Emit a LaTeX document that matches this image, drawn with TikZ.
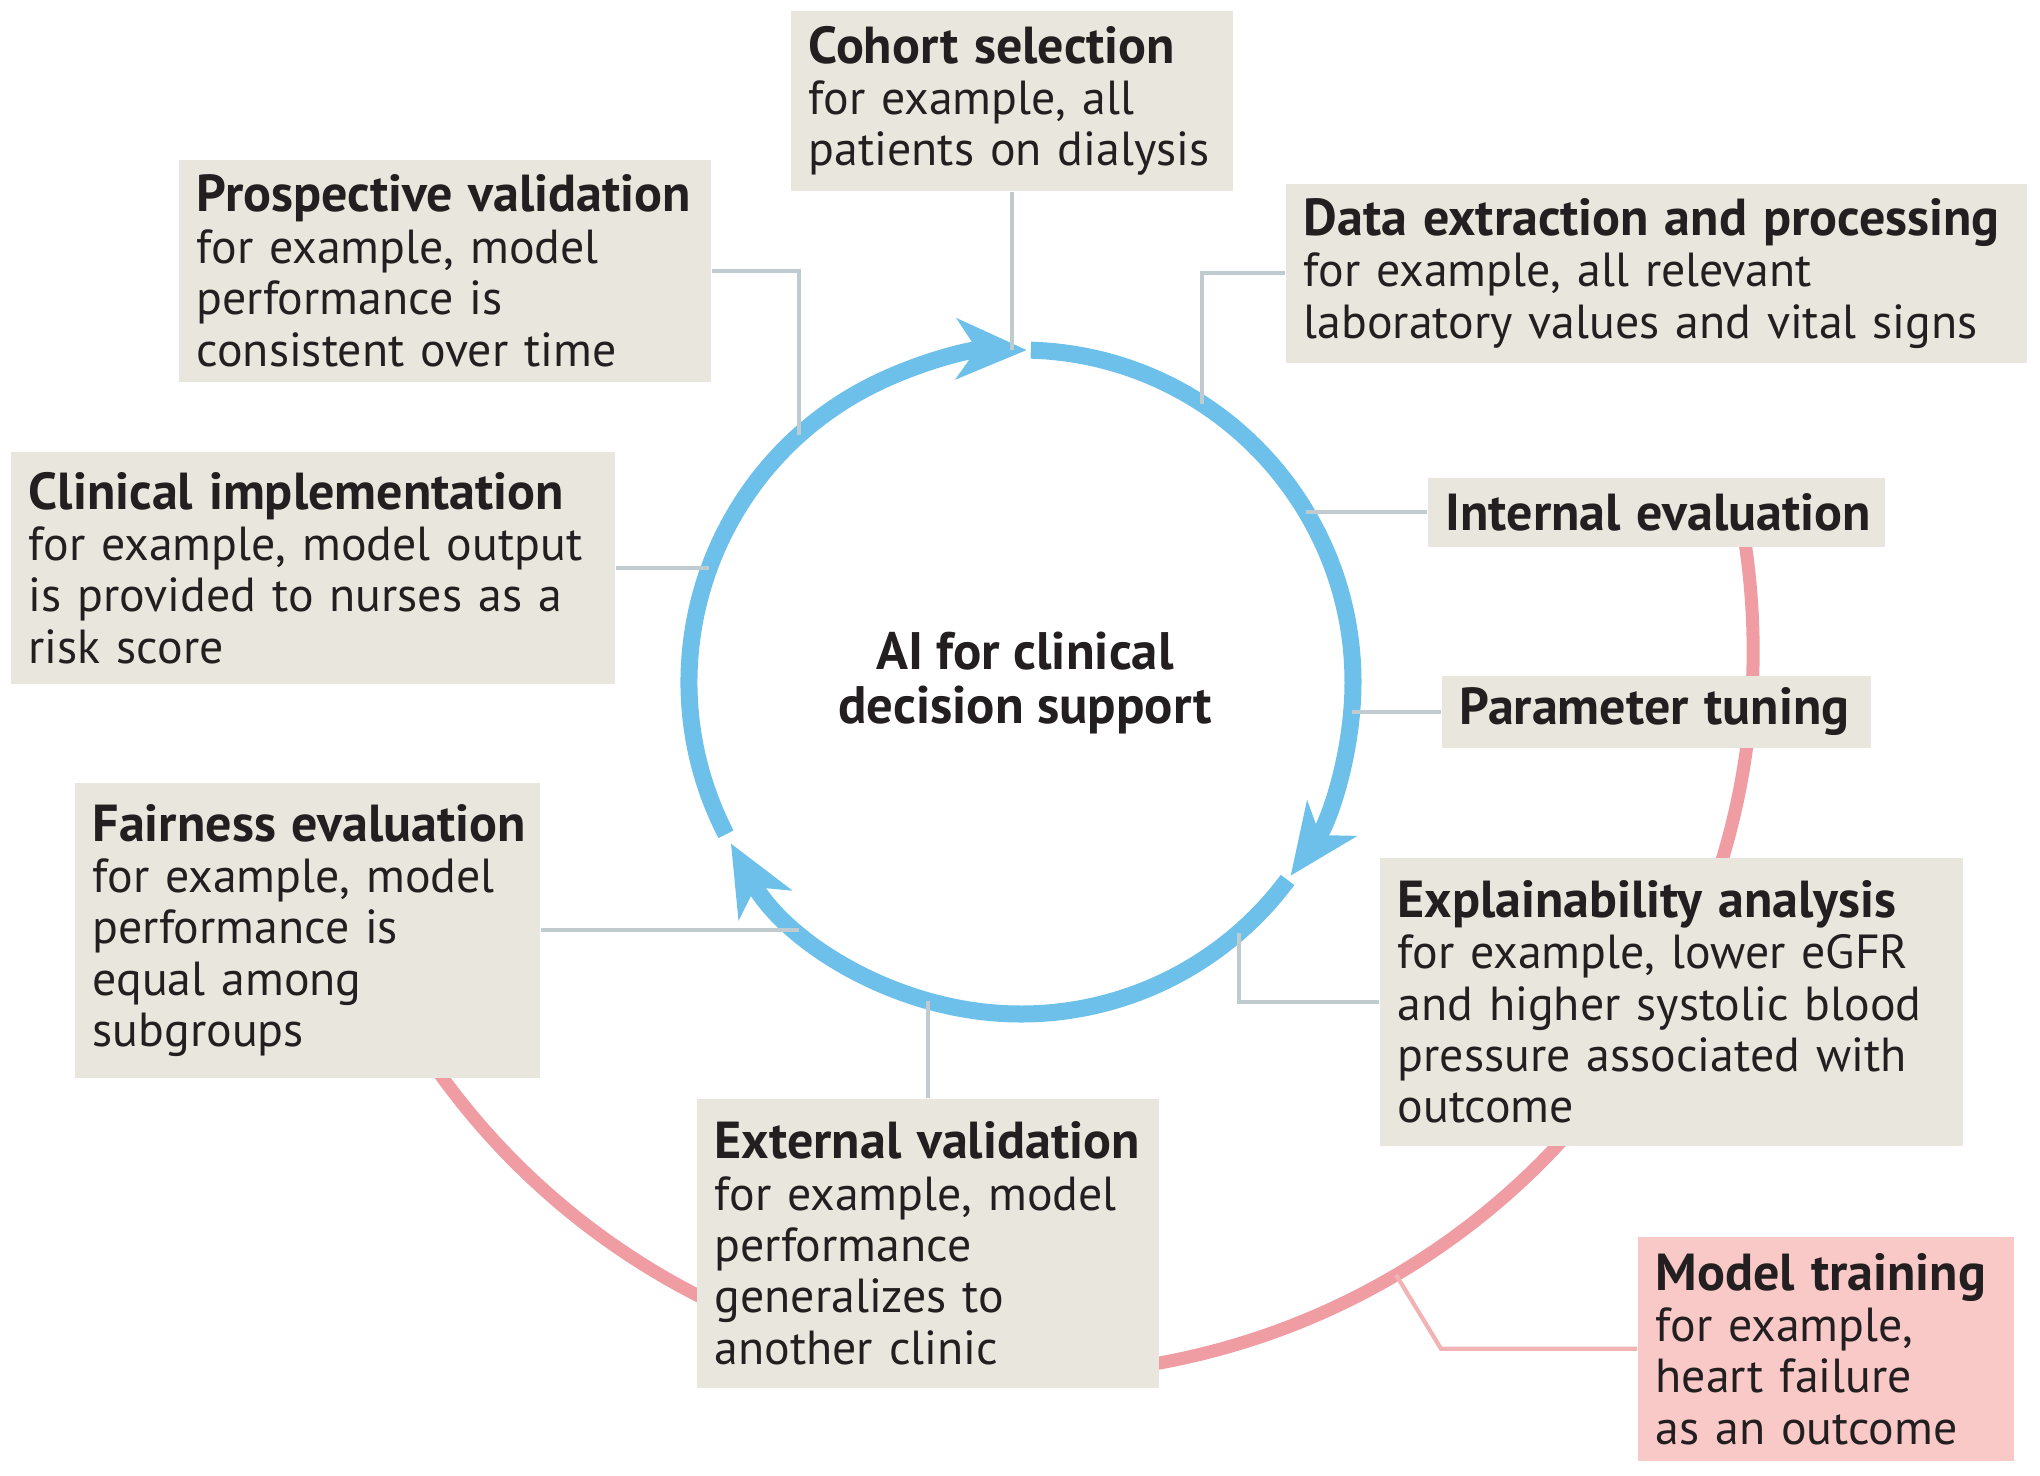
\documentclass[tikz,border=0pt]{standalone}
\usepackage{fontspec}
\setmainfont{PT Sans}
\usetikzlibrary{arrows.meta}
\definecolor{boxfill}{HTML}{E9E7DD}
\definecolor{cycleblue}{HTML}{6DC0EA}
\definecolor{linkgrey}{HTML}{BFCBCF}
\definecolor{trainpink}{HTML}{EF9DA2}
\definecolor{trainlink}{HTML}{F3B3B4}
\definecolor{trainfill}{HTML}{F9C9C7}
\definecolor{inkblack}{HTML}{231F20}
\newcommand{\stagetitle}[1]{\mbox{\bfseries\fontsize{14.8}{14.6}\selectfont #1}}
\tikzset{
  stagebox/.style={fill=boxfill, anchor=north west, align=left, inner xsep=0.18cm,
    inner ysep=0pt, text=inkblack, font=\fontsize{13.6}{14.6}\selectfont},
  link/.style={linkgrey, line width=1.2pt},
  cyclearc/.style={cycleblue, line width=0.17cm,
    -{Stealth[length=0.7cm,width=0.6cm,inset=0.2cm]}},
}
\begin{document}
\begin{tikzpicture}[x=0.01cm,y=0.01cm]
  \useasboundingbox (0,0) rectangle (2040,-1475);
  % Training loop (behind the boxes)
  \coordinate (pc) at (1028,-650);
  \draw[trainpink,line width=0.13cm] (pc) ++(10:725) arc[start angle=10,end angle=-146,radius=725];
  \path (pc) ++(-59.5:725) coordinate (mtarc);
  % Development cycle
  \coordinate (c) at (1021,-682);
  \draw[cyclearc] (c) ++(88.3:332) arc[start angle=88.3,end angle=-35.7,radius=332];
  \draw[cyclearc] (c) ++(-36.6:332) arc[start angle=-36.6,end angle=-150.9,radius=332];
  \draw[cyclearc] (c) ++(207.3:332) arc[start angle=207.3,end angle=89,radius=332];
  \node[font=\bfseries\fontsize{15}{15.2}\selectfont,align=center,text=inkblack] (hub) at (1025,-683)
       {AI for clinical\\decision support};
  % Points on the cycle
  \path (c) ++(90:332) coordinate (cTop)
        (c) ++(132:332) coordinate (cProsp)
        (c) ++(57:332) coordinate (cData)
        (c) ++(160:332) coordinate (cClin)
        (c) ++(31:332) coordinate (cInt)
        (c) ++(-5:332) coordinate (cPar)
        (c) ++(228:332) coordinate (cFair)
        (c) ++(-49:332) coordinate (cExpl)
        (c) ++(-106:332) coordinate (cExt);
  % Stages
  \node[stagebox,text width=4.06cm,minimum height=1.80cm] (cohort) at (790,-10)
       {\stagetitle{Cohort selection}\\for example, all\\patients on dialysis};
  \node[stagebox,text width=4.96cm,minimum height=2.22cm] (prosp) at (178,-159)
       {\stagetitle{Prospective validation}\\for example, model\\performance is\\consistent over time};
  \node[stagebox,text width=7.05cm,minimum height=1.79cm] (data) at (1285,-183)
       {\stagetitle{Data extraction and processing}\\for example, all relevant\\laboratory values and vital signs};
  \node[stagebox,text width=5.68cm,minimum height=2.32cm] (clin) at (10,-451)
       {\stagetitle{Clinical implementation}\\for example, model output\\is provided to nurses as a\\risk score};
  \node[stagebox,text width=4.21cm,minimum height=0.69cm] (int) at (1427,-477)
       {\stagetitle{Internal evaluation}};
  \node[stagebox,text width=3.93cm,minimum height=0.72cm] (par) at (1441,-675)
       {\stagetitle{Parameter tuning}};
  \node[stagebox,text width=4.29cm,minimum height=2.95cm] (fair) at (74,-782)
       {\stagetitle{Fairness evaluation}\\for example, model\\performance is\\equal among\\subgroups};
  \node[stagebox,text width=5.47cm,minimum height=2.88cm] (expl) at (1379,-857)
       {\stagetitle{Explainability analysis}\\for example, lower eGFR\\and higher systolic blood\\pressure associated with\\outcome};
  \node[stagebox,text width=4.26cm,minimum height=2.89cm] (ext) at (696,-1098)
       {\stagetitle{External validation}\\for example, model\\performance\\generalizes to\\another clinic};
  \node[stagebox,fill=trainfill,text width=3.40cm,minimum height=2.24cm] (mt) at (1637,-1236)
       {\stagetitle{Model training}\\for example,\\heart failure\\as an outcome};
  % Connectors
  \draw[link] (cohort.south) -- (cohort.south |- cTop);
  \draw[link] (prosp.east) -| (cProsp);
  \draw[link] (data.west) -| (cData);
  \draw[link] (clin.east) -- (clin.east -| cClin);
  \draw[link] (int.west) -- (int.west -| cInt);
  \draw[link] (par.west) -- (par.west -| cPar);
  \draw[link] (fair.east) -- (fair.east -| cFair);
  \draw[link] (expl.west) -| (cExpl);
  \draw[link] (ext.north) -- (ext.north |- cExt);
  \coordinate (mtbend) at (1441,-1349);
  \draw[trainlink,line width=1.2pt] (mt.west) -- (mt.west -| mtbend) -- (mtarc);
\end{tikzpicture}
\end{document}
